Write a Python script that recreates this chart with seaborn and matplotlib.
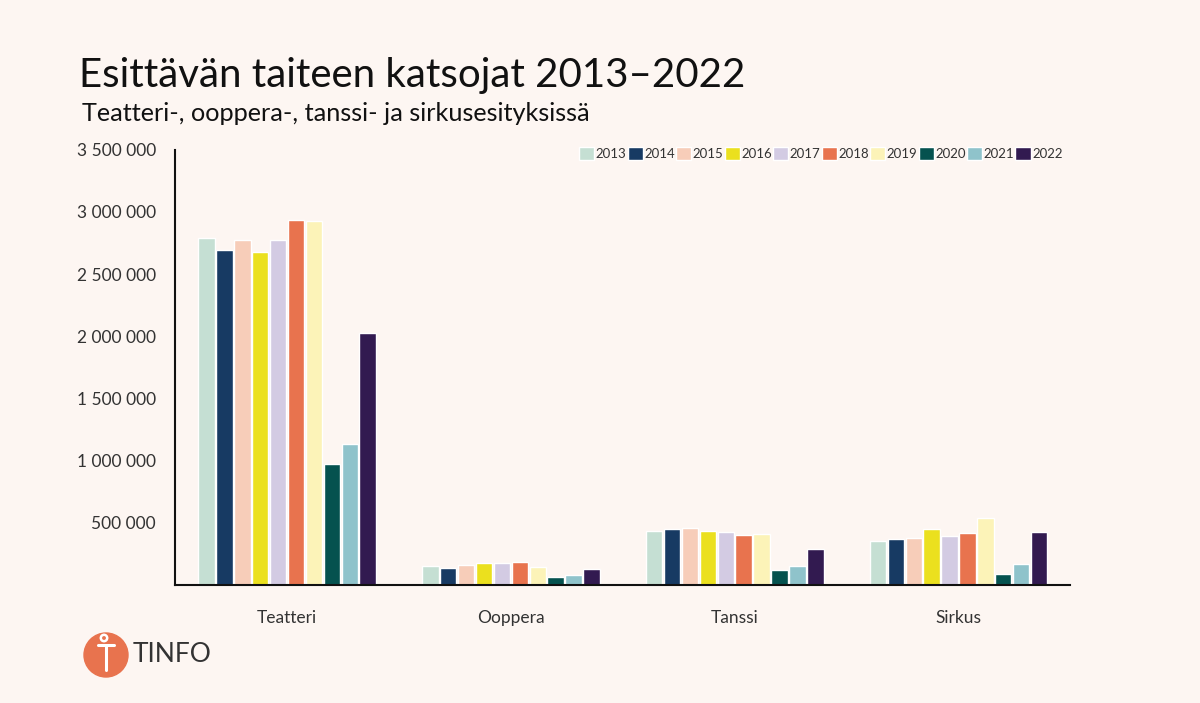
import matplotlib
matplotlib.use("Agg")
import matplotlib.pyplot as plt
import seaborn as sns
import pandas as pd
from matplotlib.patches import Circle
from matplotlib.ticker import FuncFormatter

categories = ["Teatteri", "Ooppera", "Tanssi", "Sirkus"]
years = ["2013", "2014", "2015", "2016", "2017", "2018", "2019", "2020", "2021", "2022"]
teatteri = [2790000, 2696000, 2777000, 2675000, 2772000, 2933000, 2925000, 976000, 1137000, 2030000]
ooppera = [148000, 135000, 161000, 177000, 175000, 188000, 145000, 67000, 78000, 127000]
tanssi = [430000, 449000, 457000, 435000, 427000, 400000, 409000, 121000, 148000, 288000]
sirkus = [357000, 369000, 379000, 446000, 393000, 417000, 540000, 89000, 169000, 427000]
colors = ["#c5dfd3", "#173a63", "#f7cdb9", "#ebe01e", "#d3cbe3",
          "#e8734e", "#fcf3b8", "#05524f", "#8fc3cb", "#321a50"]

rows = []
for cat, vals in zip(categories, [teatteri, ooppera, tanssi, sirkus]):
    for y, v in zip(years, vals):
        rows.append({"Laji": cat, "Vuosi": y, "Katsojat": v})
df = pd.DataFrame(rows)

bg = "#fdf6f2"
sns.set_theme(style="white")
plt.rcParams["font.family"] = ["Lato", "DejaVu Sans"]

fig = plt.figure(figsize=(12, 7.03), dpi=100, facecolor=bg)
ax = fig.add_axes([0.146, 0.168, 0.746, 0.619])
ax.set_facecolor(bg)

sns.barplot(data=df, x="Laji", y="Katsojat", hue="Vuosi", hue_order=years,
            palette=colors, width=0.8, gap=0.08, ax=ax, saturation=1)

ax.set_ylim(0, 3500000)
ax.set_xlim(-0.5, 3.5)
ax.set_yticks(range(500000, 3500001, 500000))
ax.yaxis.set_major_formatter(FuncFormatter(lambda v, p: f"{int(v):,}".replace(",", " ")))
ax.tick_params(axis="both", length=0, labelsize=12.5, colors="#333333")
ax.tick_params(axis="y", pad=14)
ax.tick_params(axis="x", pad=18)
ax.set_xlabel("")
ax.set_ylabel("")
for s in ["top", "right"]:
    ax.spines[s].set_visible(False)
for s in ["left", "bottom"]:
    ax.spines[s].set_color("#111111")
    ax.spines[s].set_linewidth(1.5)
ax.spines["left"].set_bounds(0, 3500000)

leg = ax.legend(loc="upper right", bbox_to_anchor=(1.0, 1.025), ncol=10, frameon=False,
                fontsize=9.5, handlelength=1.15, handleheight=1.15, handletextpad=0.1,
                columnspacing=0.1, borderaxespad=0.2)
for t in leg.get_texts():
    t.set_color("#333333")

fig.text(0.066, 0.893, "Esittävän taiteen katsojat 2013–2022", fontsize=29,
         color="#111111", va="center", ha="left")
fig.text(0.068, 0.839, "Teatteri-, ooppera-, tanssi- ja sirkusesityksissä", fontsize=18.2,
         color="#111111", va="center", ha="left")

# logo
ly = 1 - 655 / 703
fig.patches.append(Circle((106, 703 - 655), 22, transform=None, color="#e8734e"))
fig.lines.append(plt.Line2D([106, 106], [703 - 670, 703 - 645], transform=None,
                            color="white", lw=2.2))
fig.lines.append(plt.Line2D([98, 114], [703 - 645, 703 - 645], transform=None,
                            color="white", lw=2.2))
fig.patches.append(Circle((104, 703 - 638), 3.2, transform=None, fill=False,
                          edgecolor="white", lw=1.8))
fig.text(133 / 1200, ly, "TINFO", fontsize=19, color="#333333", ha="left", va="center")

fig.savefig("out.png", dpi=100, facecolor=bg)
